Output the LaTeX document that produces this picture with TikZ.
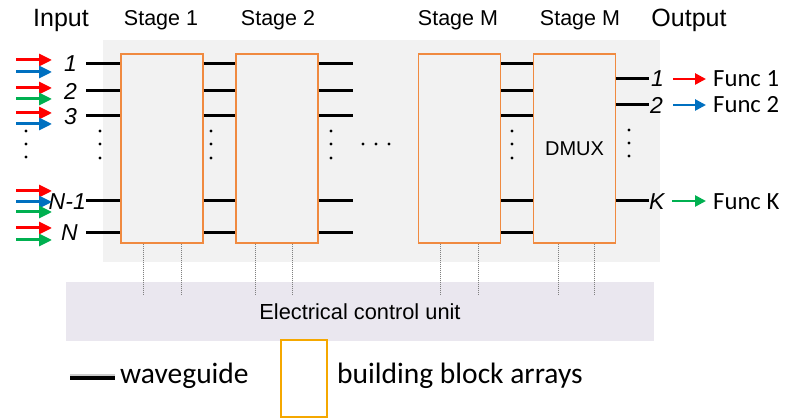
\documentclass[tikz,border=0pt]{standalone}
\usepackage{fontspec}
\setmainfont{Liberation Sans}
\newfontfamily\calib{Carlito}
\usetikzlibrary{arrows.meta}
\definecolor{bgray}{HTML}{F2F2F2}
\definecolor{lav}{HTML}{EAE7EF}
\definecolor{boxorange}{HTML}{F08A40}
\definecolor{legorange}{HTML}{F5A800}
\definecolor{ared}{HTML}{FF0000}
\definecolor{ablue}{HTML}{0070C0}
\definecolor{agreen}{HTML}{00B050}
\begin{document}
\begin{tikzpicture}[x=1pt,y=-1pt,
  stagebox/.style={draw=boxorange, line width=1.4pt, fill=bgray, minimum width=82pt, minimum height=189pt, inner sep=0pt},
  wg/.style={line width=3pt, black},
  arr/.style={line width=3pt, -{Triangle[length=13pt,width=12pt]}},
  oarr/.style={line width=2.6pt, -{Triangle[length=11pt,width=11pt]}},
  ctl/.style={draw=gray, line width=0.8pt, dash pattern=on 1pt off 1pt},
  head/.style={inner sep=0pt, font=\fontsize{21.5}{24}\selectfont},
  big/.style={inner sep=0pt, font=\fontsize{25}{28}\selectfont},
  num/.style={inner sep=0pt, font=\fontsize{23}{26}\selectfont\itshape},
  func/.style={inner sep=0pt, anchor=west, font=\calib\fontsize{24.7}{28}\selectfont},
  leg/.style={inner sep=0pt, anchor=west, font=\calib\fontsize{29.5}{32}\selectfont},
  dot/.style={fill=black}
]
\useasboundingbox (0,0) rectangle (785,419);
\fill[white] (0,0) rectangle (785,419);

% background panel
\node[fill=bgray, minimum width=557pt, minimum height=222pt, inner sep=0pt] (bg) at (381.5,151) {};

% stage boxes
\node[stagebox] (s1) at (162,148.5) {};
\node[stagebox] (s2) at (277,148.5) {};
\node[stagebox] (s3) at (459.5,148.5) {};
\node[stagebox] (s4) at (574.5,148.5) {\fontsize{20}{22}\selectfont DMUX};

% headings
\node[big] (hin) at (61,20) {Input};
\node[head] (h1) at (161,20) {Stage 1};
\node[head] (h2) at (278,20) {Stage 2};
\node[head] (h3) at (458,20) {Stage M};
\node[head] (h4) at (580,20) {Stage M};
\node[big] (hout) at (689,20) {Output};

% row coordinates
\coordinate (r1) at (0,64);
\coordinate (r2) at (0,91);
\coordinate (r3) at (0,116);
\coordinate (r4) at (0,201);
\coordinate (r5) at (0,233);
\coordinate (o1) at (0,79);
\coordinate (o2) at (0,105);
\coordinate (o3) at (0,201);

% waveguides between stages
\coordinate (inx) at (86,0);
\coordinate (out2x) at (353,0);
\foreach \r in {r1,r2,r3,r4,r5}{
  \draw[wg] (inx |- \r) -- (s1.west |- \r);
  \draw[wg] (s1.east |- \r) -- (s2.west |- \r);
  \draw[wg] (s2.east |- \r) -- (out2x |- \r);
  \draw[wg] (s3.east |- \r) -- (s4.west |- \r);
}
% output waveguides
\coordinate (oend) at (649,0);
\foreach \r in {o1,o2,o3}{
  \draw[wg] (s4.east |- \r) -- (oend |- \r);
}

% input labels
\node[num, anchor=east] (n1) at (77,64) {1};
\node[num, anchor=east] (n2) at (77,91) {2};
\node[num, anchor=east] (n3) at (77,117) {3};
\node[num, anchor=east] (n4) at (86,202) {N-1};
\node[num, anchor=east] (n5) at (78,233) {N};

% output labels
\node[num, anchor=west] (k1) at (651,79) {1};
\node[num, anchor=west] (k2) at (650,105) {2};
\node[num, anchor=west] (k3) at (649,202) {K};

% input arrows
\newcommand{\inarrow}[3]{%
  \coordinate (#3-s) at (16,#2);
  \coordinate (#3-e) at (52,#2);
  \draw[arr, #1] (#3-s) -- (#3-e);}
\inarrow{ared}{60}{a1r}
\inarrow{ablue}{72}{a1b}
\inarrow{ared}{88}{a2r}
\inarrow{agreen}{99}{a2g}
\inarrow{ared}{113}{a3r}
\inarrow{ablue}{124}{a3b}
\inarrow{ared}{191}{a4r}
\inarrow{ablue}{202}{a4b}
\inarrow{agreen}{212}{a4g}
\inarrow{ared}{228}{a5r}
\inarrow{agreen}{240}{a5g}

% output arrows and function labels
\node[func] (f1) at (713,79) {Func 1};
\node[func] (f2) at (713,105) {Func 2};
\node[func] (f3) at (713,202) {Func K};
\coordinate (oa1s) at (673,79);  \coordinate (oa1e) at (706,79);
\coordinate (oa2s) at (673,105); \coordinate (oa2e) at (706,105);
\coordinate (oa3s) at (672,201); \coordinate (oa3e) at (706,201);
\draw[oarr, ared] (oa1s) -- (oa1e);
\draw[oarr, ablue] (oa2s) -- (oa2e);
\draw[oarr, agreen] (oa3s) -- (oa3e);

% vertical dots
\foreach \x/\a/\b/\c in {26/131/144/157, 100/131/144/158, 211/131/144/158, 331/131/144/158, 512/131/144/158, 629/130/143/156}{
  \fill[dot] (\x,\a) circle (1.6);
  \fill[dot] (\x,\b) circle (1.6);
  \fill[dot] (\x,\c) circle (1.6);
}
% horizontal dots
\foreach \x in {363,376,389}{\fill[dot] (\x,144) circle (1.6);}

% electrical control unit
\node[fill=lav, minimum width=588pt, minimum height=59pt, inner sep=0pt, font=\fontsize{21.8}{24}\selectfont] (ecu) at (360,311.5) {Electrical control unit};

% control lines
\foreach \x/\s in {143/s1,181/s1,255/s2,292/s2,440/s3,478/s3,558/s4,594/s4}{
  \coordinate (c\x) at (\x,294);
  \draw[ctl] (\s.south -| c\x) -- (c\x);
}

% legend
\coordinate (lw1) at (70,378);
\coordinate (lw2) at (115,378);
\draw[line width=3.5pt, gray!40] ([yshift=2pt]lw1) -- ([yshift=2pt]lw2);
\draw[line width=3.5pt, black] (lw1) -- (lw2);
\node[leg] (lwt) at (120,376) {waveguide};
\node[draw=legorange, line width=1.4pt, fill=white, minimum width=46pt, minimum height=77pt, inner sep=0pt] (lbox) at (304,378.5) {};
\node[leg] (lbt) at (337,376) {building block arrays};
\end{tikzpicture}
\end{document}
